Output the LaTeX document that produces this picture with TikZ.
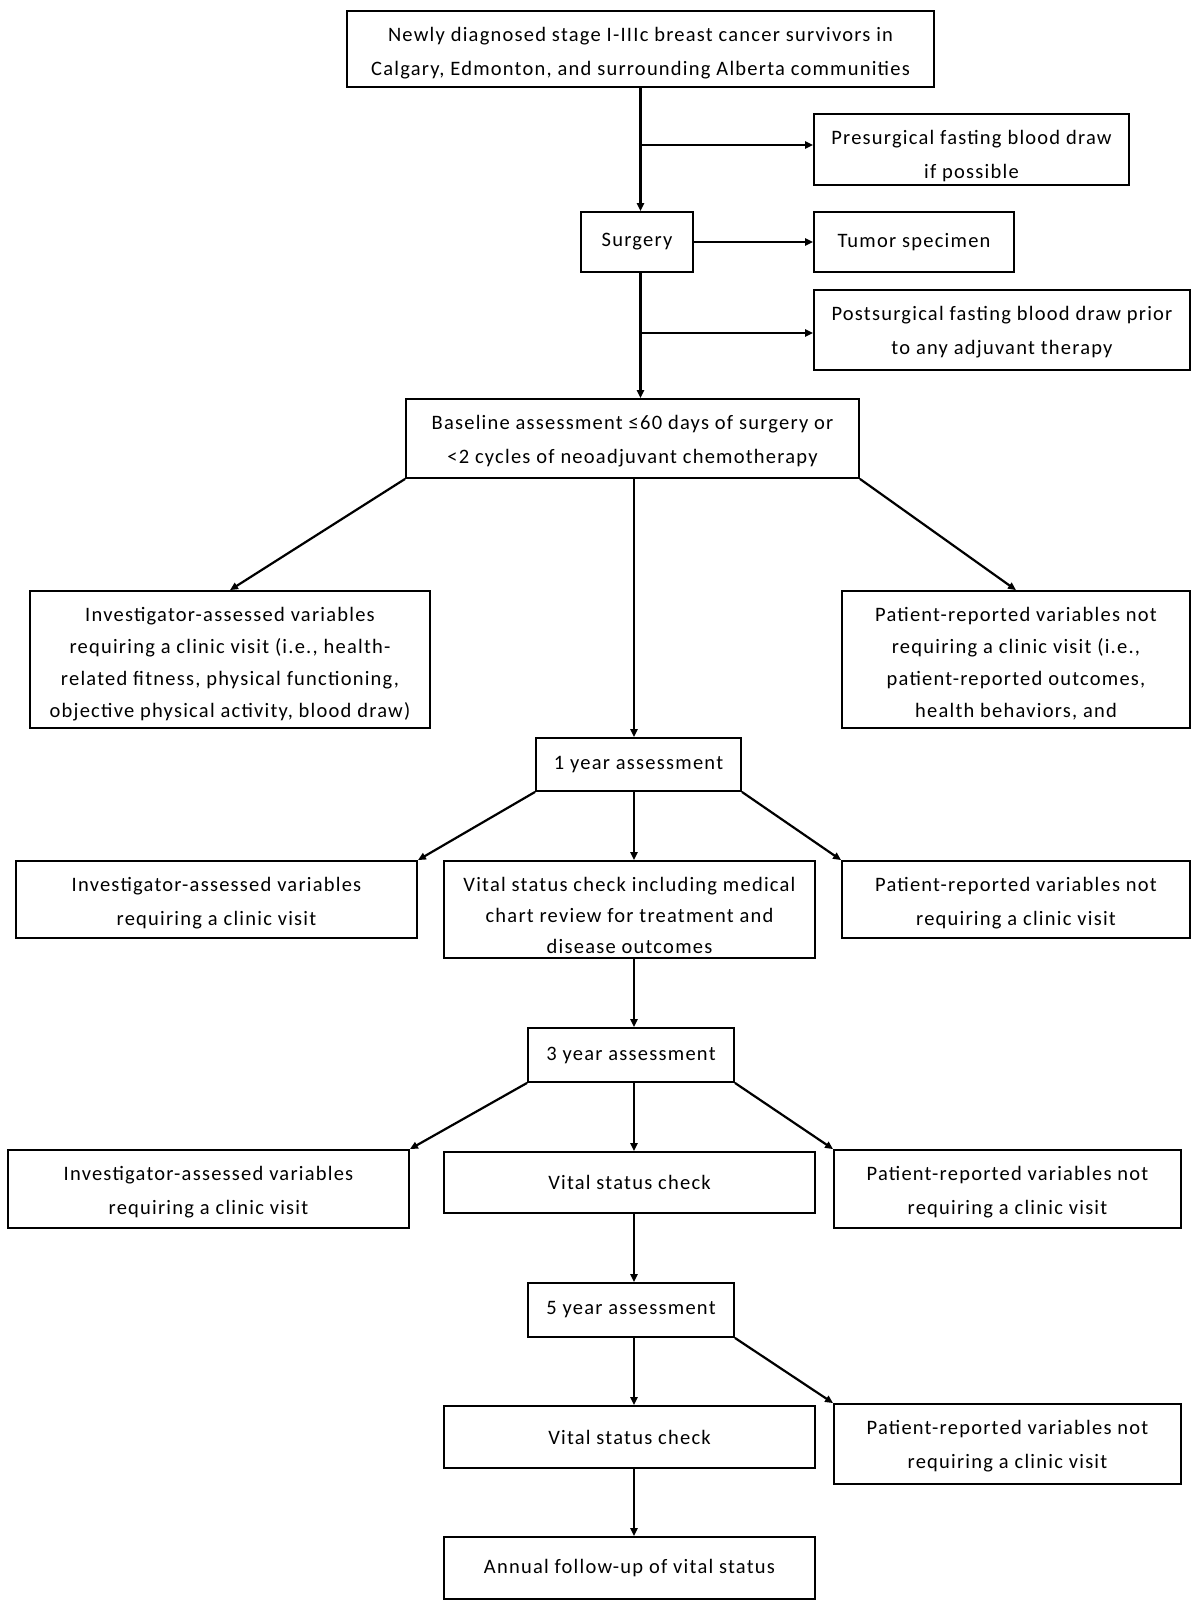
\documentclass[tikz,border=0pt]{standalone}
\usepackage{fontspec}
\setmainfont[LetterSpace=6]{Carlito}
\usetikzlibrary{arrows.meta}
% top-aligned multi-line text block: width, height, line spacing, text
\newcommand{\tblock}[4]{\parbox[c][#2pt][t]{#1pt}{\centering\fontsize{20.5}{#3pt}\selectfont\rule{0pt}{30pt}#4}}
\begin{document}
\begin{tikzpicture}[x=1pt,y=-1pt, line width=2.2pt,
  box/.style={draw, line width=1.8pt, align=center, inner sep=0pt,
    font=\fontsize{20.5}{33}\selectfont},
  arr/.style={-{Triangle[length=8pt,width=7pt]}}]
\useasboundingbox (0,0) rectangle (1200,1607);

\node[box, minimum width=587, minimum height=76] (top) at (640.5,49)
  {\tblock{587}{76}{34}{Newly diagnosed stage I-IIIc breast cancer survivors in\\Calgary, Edmonton, and surrounding Alberta communities}};
\node[box, minimum width=315, minimum height=71] (pre) at (971.5,149.5)
  {\tblock{315}{71}{34}{Presurgical fasting blood draw\\if possible}};
\node[box, minimum width=112, minimum height=60] (surg) at (637,242) {Surgery};
\node[box, minimum width=200, minimum height=60] (tumor) at (914,242) {Tumor specimen};
\node[box, minimum width=376, minimum height=80] (post) at (1002,330)
  {\tblock{376}{80}{34}{Postsurgical fasting blood draw prior\\to any adjuvant therapy}};
\node[box, minimum width=453, minimum height=79] (base) at (632.5,438.5)
  {\tblock{453}{79}{34}{Baseline assessment ≤60 days of surgery or\\<2 cycles of neoadjuvant chemotherapy}};
\node[box, minimum width=400, minimum height=137] (inv1) at (230,659.5)
  {\tblock{400}{137}{32}{Investigator-assessed variables\\requiring a clinic visit (i.e., health-\\related fitness, physical functioning,\\objective physical activity, blood draw)}};
\node[box, minimum width=348, minimum height=137] (pat1) at (1016,659.5)
  {\tblock{348}{137}{32}{Patient-reported variables not\\requiring a clinic visit (i.e.,\\patient-reported outcomes,\\health behaviors, and}};
\node[box, minimum width=205, minimum height=53] (y1) at (638.5,764.5) {1 year assessment};
\node[box, minimum width=401, minimum height=77] (inv2) at (216.5,899.5)
  {\tblock{401}{77}{34}{Investigator-assessed variables\\requiring a clinic visit}};
\node[box, minimum width=371, minimum height=97] (vit1) at (629.5,909.5)
  {\tblock{371}{97}{31}{Vital status check including medical\\chart review for treatment and\\disease outcomes}};
\node[box, minimum width=348, minimum height=77] (pat2) at (1016,899.5)
  {\tblock{348}{77}{34}{Patient-reported variables not\\requiring a clinic visit}};
\node[box, minimum width=206, minimum height=54] (y3) at (631,1055) {3 year assessment};
\node[box, minimum width=401, minimum height=78] (inv3) at (208.5,1189)
  {\tblock{401}{78}{34}{Investigator-assessed variables\\requiring a clinic visit}};
\node[box, minimum width=371, minimum height=61] (vit2) at (629.5,1182.5) {Vital status check};
\node[box, minimum width=347, minimum height=78] (pat3) at (1007.5,1189)
  {\tblock{347}{78}{34}{Patient-reported variables not\\requiring a clinic visit}};
\node[box, minimum width=206, minimum height=54] (y5) at (631,1310) {5 year assessment};
\node[box, minimum width=371, minimum height=62] (vit3) at (629.5,1437) {Vital status check};
\node[box, minimum width=347, minimum height=80] (pat4) at (1007.5,1444)
  {\tblock{347}{80}{34}{Patient-reported variables not\\requiring a clinic visit}};
\node[box, minimum width=371, minimum height=62] (ann) at (629.5,1568) {Annual follow-up of vital status};

% top chain
\coordinate (b1) at (640.5,145);
\coordinate (b2) at (640.5,333);
\draw[arr] (top.south) -- (top.south |- surg.north);
\draw[arr] (b1) -- (pre.west |- b1);
\draw[arr] (surg.east) -- (tumor.west);
\draw[arr] (top.south |- surg.south) -- (top.south |- base.north);
\draw[arr] (b2) -- (post.west |- b2);

% baseline
\coordinate (c) at (634,0);
\draw[arr] (base.south west) -- (inv1.north);
\draw[arr] (base.south east) -- (pat1.north);
\draw[arr] (c |- base.south) -- (c |- y1.north);

% 1 year
\draw[arr] (y1.south west) -- (inv2.north east);
\draw[arr] (c |- y1.south) -- (c |- vit1.north);
\draw[arr] (y1.south east) -- (pat2.north west);
\draw[arr] (c |- vit1.south) -- (c |- y3.north);

% 3 year
\draw[arr] (y3.south west) -- (inv3.north east);
\draw[arr] (c |- y3.south) -- (c |- vit2.north);
\draw[arr] (y3.south east) -- (pat3.north west);
\draw[arr] (c |- vit2.south) -- (c |- y5.north);

% 5 year
\draw[arr] (c |- y5.south) -- (c |- vit3.north);
\draw[arr] (y5.south east) -- (pat4.north west);
\draw[arr] (c |- vit3.south) -- (c |- ann.north);
\end{tikzpicture}
\end{document}
